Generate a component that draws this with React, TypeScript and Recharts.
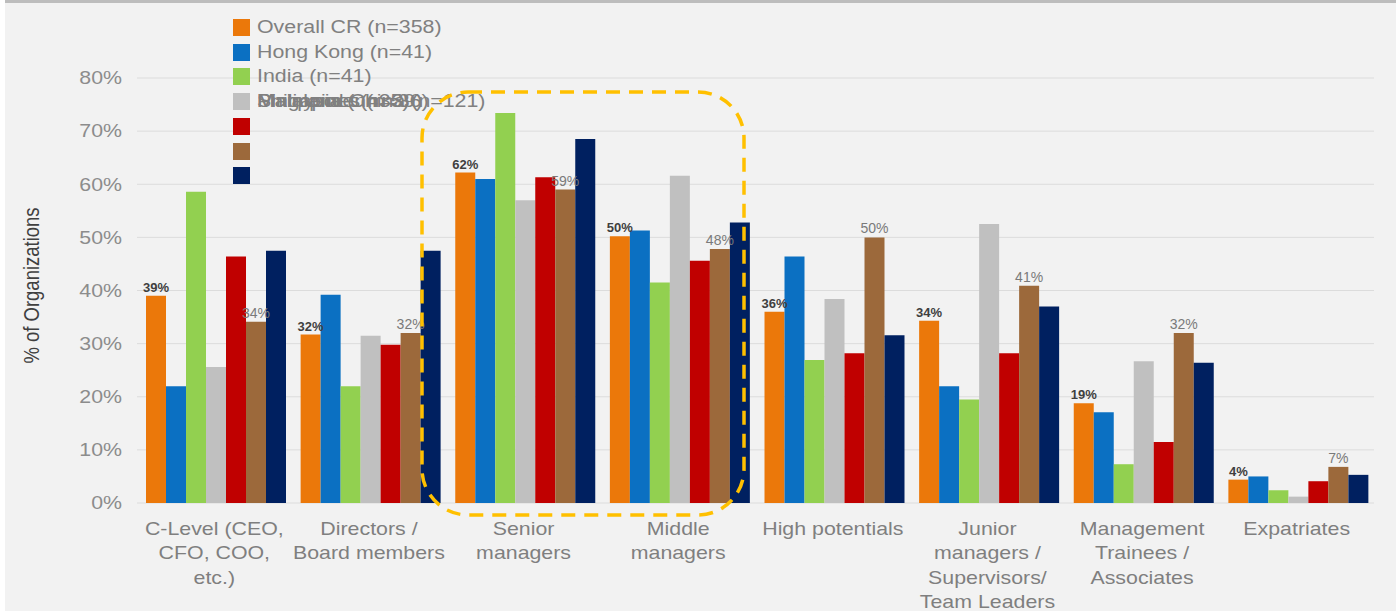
import { BarChart, Bar, XAxis, YAxis, CartesianGrid, Legend, LabelList } from 'recharts';

// categories (line breaks as in the original axis labels)
const categories = [
  'C-Level (CEO,\nCFO, COO,\netc.)',
  'Directors /\nBoard members',
  'Senior\nmanagers',
  'Middle\nmanagers',
  'High potentials',
  'Junior\nmanagers /\nSupervisors/\nTeam Leaders',
  'Management\nTrainees /\nAssociates',
  'Expatriates',
];

const overallCR = [0.39, 0.317, 0.622, 0.502, 0.36, 0.343, 0.188, 0.044];
const hongKong = [0.22, 0.392, 0.61, 0.513, 0.464, 0.22, 0.171, 0.05];
const india = [0.586, 0.22, 0.734, 0.415, 0.269, 0.195, 0.073, 0.024];
const mainlandChina = [0.256, 0.315, 0.57, 0.616, 0.384, 0.525, 0.267, 0.012];
const malaysia = [0.464, 0.298, 0.613, 0.456, 0.282, 0.282, 0.115, 0.041];
const philippines = [0.341, 0.32, 0.59, 0.478, 0.5, 0.409, 0.32, 0.068];
const singapore = [0.475, 0.475, 0.685, 0.528, 0.316, 0.37, 0.264, 0.053];

const yTicks = [0, 0.1, 0.2, 0.3, 0.4, 0.5, 0.6, 0.7, 0.8];

const series = [
  { key: 'overall', name: 'Overall CR (n=358)', color: '#EB780A', values: overallCR, label: 'strong' },
  { key: 'hk', name: 'Hong Kong (n=41)', color: '#0B70C2', values: hongKong },
  { key: 'india', name: 'India (n=41)', color: '#92D050', values: india },
  { key: 'china', name: 'Mainland China (n=121)', color: '#C0C0C0', values: mainlandChina },
  { key: 'malaysia', name: 'Malaysia (n=35)', color: '#C00000', values: malaysia },
  { key: 'philippines', name: 'Philippines (n=36)', color: '#9C693B', values: philippines, label: 'light' },
  { key: 'singapore', name: 'Singapore (n=39)', color: '#002060', values: singapore },
];

const data = categories.map((c, i) => {
  const row: any = { category: c };
  series.forEach(s => { row[s.key] = s.values[i]; });
  return row;
});

const pct = (v: any) => `${Math.round(Number(v) * 100)}%`;

const FONT = '"Liberation Sans", Arial, sans-serif';
const NARROW = '"Liberation Sans Narrow", "Arial Narrow", "Liberation Sans", sans-serif';
const SX = 1.22; // source picture is stretched horizontally

function CategoryTick({ x, y, payload }: any) {
  const lines = String(payload.value).split('\n');
  return (
    <text transform={`translate(${x},${y}) scale(${SX},1)`} textAnchor="middle" fill="#7f7f7f" fontSize={17.5} fontFamily={FONT}>
      {lines.map((l, i) => (
        <tspan key={i} x={0} dy={i === 0 ? 24 : 24.5}>{l}</tspan>
      ))}
    </text>
  );
}

function ValueTick({ x, y, payload }: any) {
  return (
    <text transform={`translate(${x},${y}) scale(${SX},1)`} textAnchor="end" dominantBaseline="central"
      fill="#8c8c8c" fontSize={17.5} fontFamily={FONT}>
      {pct(payload.value)}
    </text>
  );
}

function YLabel({ viewBox }: any) {
  const cx = viewBox.x + 31;
  const cy = viewBox.y + viewBox.height / 2 - 5;
  return (
    <text transform={`translate(${cx},${cy}) scale(${SX},1) rotate(-90)`} textAnchor="middle" dominantBaseline="central"
      fill="#404040" fontSize={18.5} fontFamily={FONT}>
      % of Organizations
    </text>
  );
}

function LegendBox({ payload }: any) {
  const order = series.map(s => s.name);
  const items = [...(payload || [])].sort((a: any, b: any) => order.indexOf(a.value) - order.indexOf(b.value));
  return (
    <div style={{ position: 'relative', fontFamily: FONT, fontSize: 17.5, color: '#808080' }}>
      {items.map((p: any, i: number) => (
        <div key={i} style={{ position: 'absolute', left: 0, top: i * 24.7, width: 17, height: 17, background: p.color }} />
      ))}
      {items.map((p: any, i: number) => {
        const row = Math.min(i, 3);
        return (
          <div key={'t' + i} style={{ position: 'absolute', left: 24, top: row * 24.7 - 2, whiteSpace: 'nowrap', lineHeight: '20px',
            transform: `scaleX(${SX})`, transformOrigin: 'left center' }}>
            {p.value}
          </div>
        );
      })}
    </div>
  );
}

export default function App() {
  return (
    <div style={{ width: 1398, height: 611, background: '#ffffff', position: 'relative', overflow: 'hidden' }}>
      <style>{'body{margin:0}'}</style>
      <div style={{ position: 'absolute', left: 5, top: 0, width: 1391, height: 611, background: '#f2f2f2', borderTop: '3px solid #bdbdbd', boxSizing: 'border-box' }} />
      <div style={{ position: 'absolute', left: 0, top: 0 }}>
        <BarChart width={1398} height={611} data={data} margin={{ top: 78, right: 24, left: 0, bottom: 0 }}
          barGap={0} barCategoryGap={9}>
          <CartesianGrid vertical={false} stroke="#dcdcdc" />
          <XAxis dataKey="category" axisLine={false} tickLine={false} interval={0} height={108} tick={<CategoryTick />} />
          <YAxis domain={[0, 0.8]} ticks={yTicks} width={137} axisLine={false} tickLine={false} tickMargin={9}
            tick={<ValueTick />} label={<YLabel />} />
          <Legend layout="horizontal" verticalAlign="middle" align="center" content={<LegendBox />}
            wrapperStyle={{ top: 19, left: 233, width: 300, height: 170 }} />
          {series.map(s => (
            <Bar key={s.key} dataKey={s.key} name={s.name} fill={s.color} isAnimationActive={false}>
              {s.label === 'strong' && (
                <LabelList dataKey={s.key} position="top" offset={4} formatter={pct}
                  style={{ fill: '#3f3f3f', fontSize: 13, fontWeight: 'bold', fontFamily: NARROW }} />
              )}
              {s.label === 'light' && (
                <LabelList dataKey={s.key} position="top" offset={4} formatter={pct}
                  style={{ fill: '#7a7a7a', fontSize: 14, fontFamily: NARROW }} />
              )}
            </Bar>
          ))}
        </BarChart>
      </div>
      <svg width={1398} height={611} style={{ position: 'absolute', left: 0, top: 0, pointerEvents: 'none' }}>
        <rect x={422} y={92} width={322} height={423} rx={46} ry={46} fill="none" stroke="#FFC000"
          strokeWidth={3.5} strokeDasharray="14 9" />
      </svg>
    </div>
  );
}
